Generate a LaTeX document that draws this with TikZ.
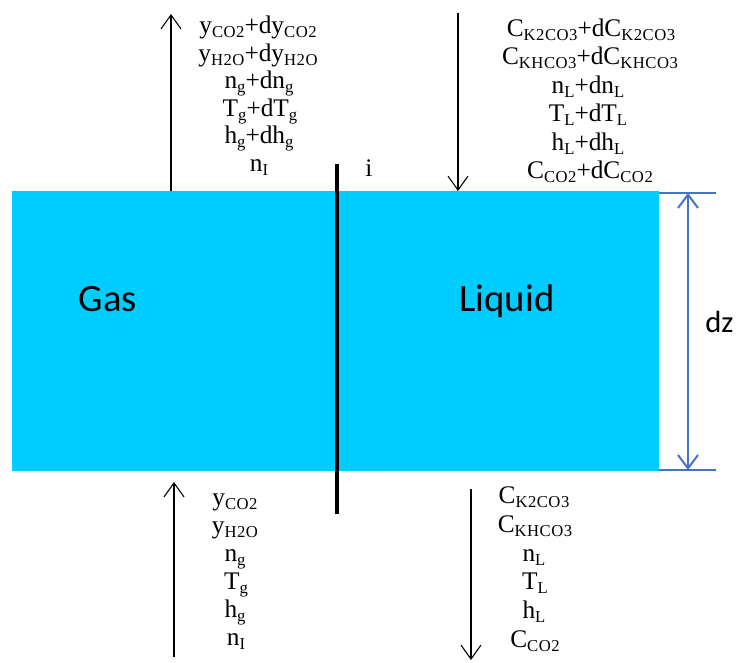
\documentclass[tikz,border=0pt]{standalone}
\usepackage{fontspec}
\setmainfont{Liberation Serif}
\newfontfamily\calfont{Carlito}
\usetikzlibrary{arrows.meta}
\definecolor{slabcyan}{RGB}{0,204,255}
\definecolor{dimblue}{RGB}{68,114,196}
\newcommand{\sbx}[1]{\raisebox{-3pt}{\fontsize{12.5}{13}\selectfont\addfontfeature{LetterSpace=3}#1}}
\begin{document}
\begin{tikzpicture}[x=0.75pt,y=-0.75pt,
  txt/.style={anchor=base,inner sep=0pt,font=\fontsize{19}{22}\selectfont},
  big/.style={anchor=base,inner sep=0pt,font=\calfont\fontsize{29}{34}\selectfont},
  flow/.style={line width=0.8pt,-{Straight Barb[length=10.5pt,width=15pt,line width=0.8pt]}},
  dimline/.style={dimblue,line width=1.5pt},
  dimarr/.style={dimblue,line width=1.5pt,{Straight Barb[length=10pt,width=15pt,line width=1.5pt]}-{Straight Barb[length=10pt,width=15pt,line width=1.5pt]}}]
\useasboundingbox (0,0) rectangle (739,662);
% slab
\coordinate (slabTL) at (12,191);
\coordinate (slabBR) at (659,471);
\fill[slabcyan] (slabTL) rectangle (slabBR);
% interface
\coordinate (ifTop) at (337,164);
\coordinate (ifBot) at (337,514);
\draw[line width=3pt] (ifTop) -- (ifBot);
\node[txt] (iLab) at (369,176) {i};
% labels
\node[big] (gas) at (108,311) {Gas};
\node[big] (liquid) at (507,311) {Liquid};
\node[anchor=base west,inner sep=0pt,font=\calfont\fontsize{23}{27}\selectfont] (dz) at (705,332) {dz};
% dimension
\coordinate (dTa) at (659,193);
\coordinate (dTb) at (716,193);
\coordinate (dBa) at (659,470);
\coordinate (dBb) at (716,470);
\coordinate (dUp) at (688,193);
\coordinate (dDn) at (688,470);
\draw[dimline] (dTa) -- (dTb);
\draw[dimline] (dBa) -- (dBb);
\draw[dimarr] (dUp) -- (dDn);
% flow arrows
\coordinate (gOutA) at (171,191);
\coordinate (gOutB) at (171,14);
\coordinate (lInA) at (458,13);
\coordinate (lInB) at (458,191);
\coordinate (gInA) at (174,657);
\coordinate (gInB) at (174,482);
\coordinate (lOutA) at (471,489);
\coordinate (lOutB) at (471,660);
\draw[flow] (gOutA) -- (gOutB);
\draw[flow] (lInA) -- (lInB);
\draw[flow] (gInA) -- (gInB);
\draw[flow] (lOutA) -- (lOutB);
% top-left block
\node[txt] (tl1) at (258,33) {y\sbx{CO2}+dy\sbx{CO2}};
\node[txt] (tl2) at (258,61) {y\sbx{H2O}+dy\sbx{H2O}};
\node[txt] (tl3) at (259,88.5) {n\sbx{g}+dn\sbx{g}};
\node[txt] (tl4) at (260,116) {T\sbx{g}+dT\sbx{g}};
\node[txt] (tl5) at (259,143.5) {h\sbx{g}+dh\sbx{g}};
\node[txt] (tl6) at (259,171) {n\sbx{I}};
% top-right block
\node[txt] (tr1) at (591,36) {C\sbx{K2CO3}+dC\sbx{K2CO3}};
\node[txt] (tr2) at (590,64.5) {C\sbx{KHCO3}+dC\sbx{KHCO3}};
\node[txt] (tr3) at (588,93) {n\sbx{L}+dn\sbx{L}};
\node[txt] (tr4) at (588,121.5) {T\sbx{L}+dT\sbx{L}};
\node[txt] (tr5) at (588,150) {h\sbx{L}+dh\sbx{L}};
\node[txt] (tr6) at (590,178.5) {C\sbx{CO2}+dC\sbx{CO2}};
% bottom-left block
\node[txt] (bl1) at (235,505) {y\sbx{CO2}};
\node[txt] (bl2) at (235,533) {y\sbx{H2O}};
\node[txt] (bl3) at (235,561) {n\sbx{g}};
\node[txt] (bl4) at (236,589) {T\sbx{g}};
\node[txt] (bl5) at (235,617) {h\sbx{g}};
\node[txt] (bl6) at (236,645) {n\sbx{I}};
% bottom-right block
\node[txt] (br1) at (534,503) {C\sbx{K2CO3}};
\node[txt] (br2) at (535,532) {C\sbx{KHCO3}};
\node[txt] (br3) at (534,561) {n\sbx{L}};
\node[txt] (br4) at (535,589) {T\sbx{L}};
\node[txt] (br5) at (534,618) {h\sbx{L}};
\node[txt] (br6) at (535,647) {C\sbx{CO2}};
\end{tikzpicture}
\end{document}
